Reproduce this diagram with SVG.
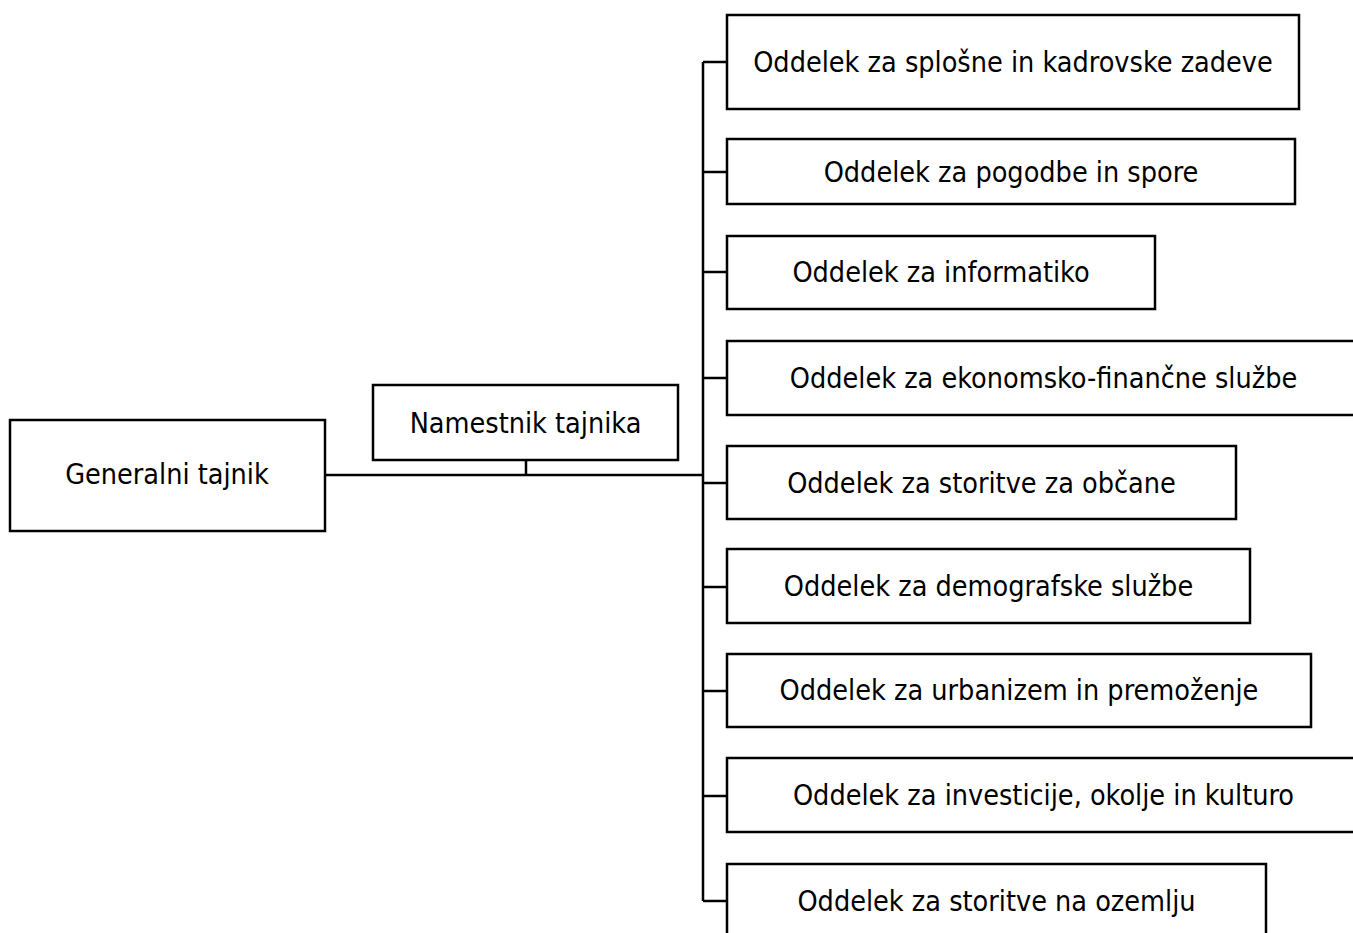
<svg xmlns="http://www.w3.org/2000/svg" width="1353" height="933" viewBox="0 0 1353 933">
<style>
.box{fill:#fff;stroke:#000;stroke-width:2.5}
.lbl{font-family:"DejaVu Sans Condensed","DejaVu Sans",sans-serif;font-size:28.5px;fill:#000;text-anchor:middle}
.con{fill:none;stroke:#000;stroke-width:2.5}
</style>
<rect width="1353" height="933" fill="#fff"/>
<g id="connectors">
<path class="con" d="M325,475 H703"/>
<path class="con" d="M526,460 V475"/>
<path class="con" d="M703,62 V901"/>
<path class="con" d="M703,62 H727 M703,172 H727 M703,272 H727 M703,378 H727 M703,483 H727 M703,587 H727 M703,691 H727 M703,796 H727 M703,901 H727"/>
</g>
<g id="n-generalni"><rect class="box" x="10" y="420" width="315" height="111"/><text class="lbl" x="167" y="484">Generalni tajnik</text></g>
<g id="n-namestnik"><rect class="box" x="373" y="385" width="305" height="75"/><text class="lbl" x="525.5" y="433">Namestnik tajnika</text></g>
<g id="n-splosne"><rect class="box" x="727" y="15" width="572" height="94"/><text class="lbl" x="1013" y="72">Oddelek za splošne in kadrovske zadeve</text></g>
<g id="n-pogodbe"><rect class="box" x="727" y="139" width="568" height="65"/><text class="lbl" x="1011" y="182">Oddelek za pogodbe in spore</text></g>
<g id="n-informatika"><rect class="box" x="727" y="236" width="428" height="73"/><text class="lbl" x="941" y="282">Oddelek za informatiko</text></g>
<g id="n-ekonomsko"><rect class="box" x="727" y="341" width="640" height="74"/><text class="lbl" x="1043.5" y="388">Oddelek za ekonomsko-finančne službe</text></g>
<g id="n-obcani"><rect class="box" x="727" y="446" width="509" height="73"/><text class="lbl" x="981.5" y="493">Oddelek za storitve za občane</text></g>
<g id="n-demografske"><rect class="box" x="727" y="549" width="523" height="74"/><text class="lbl" x="988.5" y="596">Oddelek za demografske službe</text></g>
<g id="n-urbanizem"><rect class="box" x="727" y="654" width="584" height="73"/><text class="lbl" x="1019" y="700">Oddelek za urbanizem in premoženje</text></g>
<g id="n-investicije"><rect class="box" x="727" y="758" width="640" height="74"/><text class="lbl" x="1043.5" y="805">Oddelek za investicije, okolje in kulturo</text></g>
<g id="n-ozemlje"><rect class="box" x="727" y="864" width="539" height="80"/><text class="lbl" x="996.5" y="911">Oddelek za storitve na ozemlju</text></g>
</svg>
